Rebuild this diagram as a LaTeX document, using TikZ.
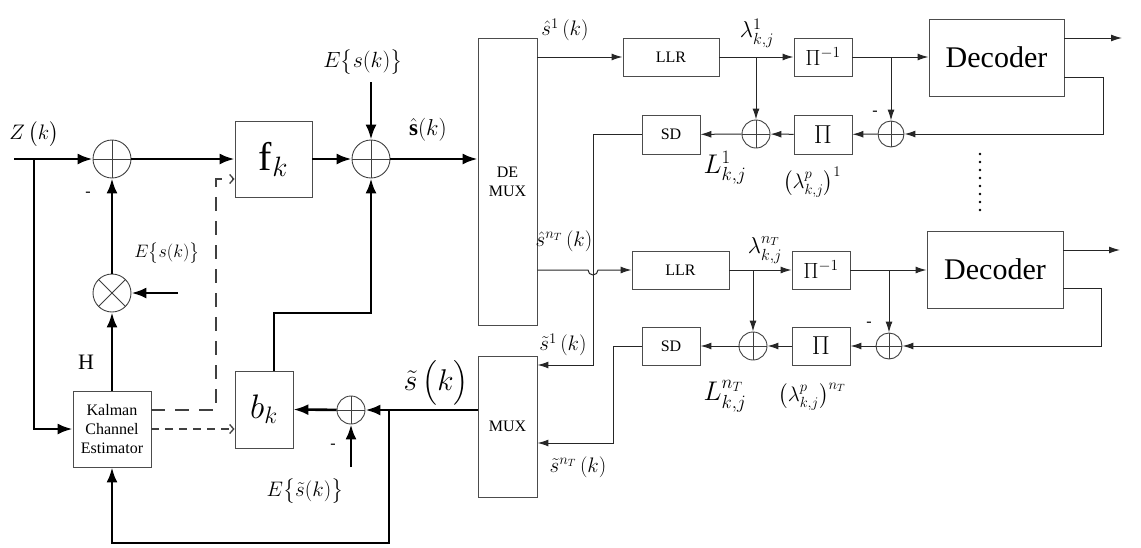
\RequirePackage{fix-cm}
\documentclass[tikz,border=0pt]{standalone}
\usepackage{amsmath}
\usepackage{fontspec}
\setmainfont{Liberation Serif}
\usetikzlibrary{arrows.meta, positioning, calc}

\begin{document}
\begin{tikzpicture}[x=1pt, y=-1pt,
        blockbox/.style={rectangle, draw=black!70, line width=0.9pt, fill=white, inner sep=0pt, align=center, font=\fontsize{16}{19}\selectfont},
        sumnode/.style={circle, draw=black!75, line width=0.9pt, fill=white, inner sep=0pt, minimum size=#1,
            path picture={\draw[black!75, line width=0.8pt] (path picture bounding box.north) -- (path picture bounding box.south) (path picture bounding box.west) -- (path picture bounding box.east);}},
        mulnode/.style={circle, draw=black!75, line width=0.9pt, fill=white, inner sep=0pt, minimum size=#1,
            path picture={\draw[black!75, line width=0.8pt] (path picture bounding box.north west) -- (path picture bounding box.south east) (path picture bounding box.south west) -- (path picture bounding box.north east);}},
        bus/.style={line width=2.6pt, -{Latex[length=15pt,width=11pt]}},
        sig/.style={line width=1pt, draw=black!85, -{Latex[length=11pt,width=7pt]}},
        ctrl/.style={line width=1.3pt, draw=black!75, -{Straight Barb[length=4pt,width=9pt]}},
        lbl/.style={inner sep=0pt, font=\fontsize{21}{23}\selectfont}
    ]
        \useasboundingbox (0,0) rectangle (1141,547);
        % Blocks
        \node[blockbox, minimum width=77pt, minimum height=76pt, font=\fontsize{40}{44}\selectfont] (fbox) at (273.5,159) {$\mathrm{f}_k$};
        \node[blockbox, minimum width=58pt, minimum height=77pt, font=\fontsize{34}{38}\selectfont] (bbox) at (264,409.5) {$b_k$};
        \node[blockbox, minimum width=78pt, minimum height=76pt] (kalman) at (112,429) {Kalman\\Channel\\Estimator};
        \node[blockbox, minimum width=59pt, minimum height=287pt] (demux) at (507.5,181.5) {DE\\MUX};
        \node[blockbox, minimum width=59pt, minimum height=141pt] (mux) at (507.5,426.5) {MUX};
        \node[blockbox, minimum width=96pt, minimum height=38pt] (llrA) at (671,57) {LLR};
        \node[blockbox, minimum width=58pt, minimum height=38pt, font=\fontsize{22}{24}\selectfont] (piinvA) at (823,57) {$\Pi^{-1}$};
        \node[blockbox, minimum width=58pt, minimum height=39pt, font=\fontsize{26}{28}\selectfont] (piA) at (823,134.5) {$\Pi$};
        \node[blockbox, minimum width=58pt, minimum height=39pt] (sdA) at (671,134.5) {SD};
        \node[blockbox, minimum width=135pt, minimum height=77pt, font=\fontsize{30}{32}\selectfont] (decA) at (996.5,57.5) {Decoder};
        \node[blockbox, minimum width=97pt, minimum height=38pt] (llrB) at (680.5,270) {LLR};
        \node[blockbox, minimum width=58pt, minimum height=38pt, font=\fontsize{22}{24}\selectfont] (piinvB) at (821,270) {$\Pi^{-1}$};
        \node[blockbox, minimum width=58pt, minimum height=38pt, font=\fontsize{26}{28}\selectfont] (piB) at (821,346) {$\Pi$};
        \node[blockbox, minimum width=58pt, minimum height=38pt] (sdB) at (671,346) {SD};
        \node[blockbox, minimum width=136pt, minimum height=77pt, font=\fontsize{30}{32}\selectfont] (decB) at (995,269.5) {Decoder};
        % Adders and multiplier
        \node[sumnode=38pt] (sumZ) at (112,159) {};
        \node[mulnode=38pt] (mulH) at (112,293) {};
        \node[sumnode=38pt] (sumF) at (371,159) {};
        \node[sumnode=28pt] (sumT) at (351,410) {};
        \node[sumnode=28pt] (sumLA) at (756,134) {};
        \node[sumnode=26pt] (sumDA) at (891,134) {};
        \node[sumnode=28pt] (sumLB) at (753,346) {};
        \node[sumnode=26pt] (sumDB) at (889,346) {};
        % Coordinates
        \coordinate (zin) at (14,159);
        \coordinate (zsplit) at (34,159);
        \coordinate (eL) at (178,293);
        \coordinate (eTop) at (371,82);
        \coordinate (bup) at (274,313);
        \coordinate (fb) at (389,410);
        \coordinate (fbLow) at (389,543);
        \coordinate (eT) at (351,467);
        \coordinate (dUp) at (216,410);
        \coordinate (dTop) at (216,179);
        \coordinate (dLow) at (151,429);
        \coordinate (jLA) at (756,57);
        \coordinate (jLB) at (753,270);
        \coordinate (jDA) at (891,57);
        \coordinate (jDB) at (889,270);
        \coordinate (sdAturn) at (593,134.5);
        \coordinate (sdAdown) at (593,365);
        \coordinate (sdBturn) at (613,346);
        \coordinate (sdBdown) at (613,443);
        \coordinate (hopL) at (588,270);
        \coordinate (oA) at (1122,38);
        \coordinate (fA) at (1103,77);
        \coordinate (oB) at (1120,250);
        \coordinate (fB) at (1101,288);
        % Thick signal paths
        \draw[bus] (zin) -- (sumZ);
        \draw[bus] (sumZ) -- (fbox);
        \draw[bus] (fbox) -- (sumF);
        \draw[bus] (sumF) -- (demux.west |- sumF);
        \draw[bus] (zsplit) |- (kalman.west);
        \draw[bus] (kalman.north) -- (mulH.south);
        \draw[bus] (mulH) -- (sumZ);
        \draw[bus] (eL) -- (mulH.east);
        \draw[bus] (eTop) -- (sumF.north);
        \draw[bus] (bbox.north -| bup) -- (bup) -| (sumF.south);
        \draw[bus] (mux.west |- sumT) -- (sumT.east);
        \draw[bus] (sumT) -- (bbox.east);
        \draw[bus] (fb) -- (fbLow) -| (kalman.south);
        \draw[bus] (eT) -- (sumT.south);
        % Dashed control paths
        \draw[ctrl, dash pattern=on 14pt off 10pt] (kalman.east |- dUp) -- (dUp) -- (dTop) -- (fbox.west |- dTop);
        \draw[ctrl, dash pattern=on 8pt off 6pt] (dLow) -- (bbox.west |- dLow);
        % Branch 1
        \draw[sig] (demux.east |- llrA) -- (llrA.west);
        \draw[sig] (llrA) -- (piinvA);
        \draw[sig] (jLA) -- (sumLA.north);
        \draw[sig] (piA) -- (sumLA);
        \draw[sig] (sumLA) -- (sdA);
        \draw[sig] (sdA.west) -- (sdAturn) -- (sdAdown) -- (mux.east |- sdAdown);
        \draw[sig] (piinvA) -- (decA.west |- piinvA);
        \draw[sig] (jDA) -- (sumDA.north);
        \draw[sig] (decA.east |- oA) -- (oA);
        \draw[sig] (decA.east |- fA) -- (fA) |- (sumDA.east);
        \draw[sig] (sumDA) -- (piA);
        % Branch nT
        \draw[sig] (demux.east |- hopL) -- (hopL) arc[start angle=180, end angle=360, radius=5pt] -- (llrB.west);
        \draw[sig] (llrB) -- (piinvB);
        \draw[sig] (jLB) -- (sumLB.north);
        \draw[sig] (piB) -- (sumLB);
        \draw[sig] (sumLB) -- (sdB);
        \draw[sig] (sdB.west) -- (sdBturn) -- (sdBdown) -- (mux.east |- sdBdown);
        \draw[sig] (piinvB) -- (decB.west |- piinvB);
        \draw[sig] (jDB) -- (sumDB.north);
        \draw[sig] (decB.east |- oB) -- (oB);
        \draw[sig] (decB.east |- fB) -- (fB) |- (sumDB.east);
        \draw[sig] (sumDB) -- (piB);
        % Dots between branches
        \foreach \yy in {154,162,...,210}
            \fill (980,\yy) circle (1.3pt);
        % Labels
        \node[lbl] (zlbl) at (34,134) {$Z\,\bigl(k\bigr)$};
        \node[lbl, font=\fontsize{16}{18}\selectfont] (minZ) at (88,194) {-};
        \node[lbl, font=\fontsize{18}{20}\selectfont] (eLlbl) at (167,253) {$E\bigl\{s(k)\bigr\}$};
        \node[lbl, font=\fontsize{22}{24}\selectfont] (hlbl) at (86,362) {H};
        \node[lbl, font=\fontsize{22}{24}\selectfont] (eToplbl) at (363,62) {$E\bigl\{s(k)\bigr\}$};
        \node[lbl, font=\fontsize{23}{25}\selectfont] (shat) at (428,130) {$\hat{\mathbf{s}}(k)$};
        \node[lbl, font=\fontsize{30}{32}\selectfont] (stil) at (436,383) {$\tilde{s}\,\bigl(k\bigr)$};
        \node[lbl, font=\fontsize{16}{18}\selectfont] (minT) at (333,446) {-};
        \node[lbl] (eTlbl) at (305,491) {$E\bigl\{\tilde{s}(k)\bigr\}$};
        \node[lbl] (s1hat) at (565,30) {$\hat{s}^1\,(k)$};
        \node[lbl, font=\fontsize{23}{25}\selectfont] (lamA) at (757,33) {$\lambda^1_{k,j}$};
        \node[lbl, font=\fontsize{27}{29}\selectfont] (LA) at (725,168) {$L^1_{k,j}$};
        \node[lbl] (lampA) at (812,182) {$\bigl(\lambda^p_{k,j}\bigr)^1$};
        \node[lbl, font=\fontsize{16}{18}\selectfont] (minDA) at (875,113) {-};
        \node[lbl] (snhat) at (564,241) {$\hat{s}^{n_T}\,(k)$};
        \node[lbl, font=\fontsize{23}{25}\selectfont] (lamB) at (765,250) {$\lambda^{n_T}_{k,j}$};
        \node[lbl] (s1til) at (563,345) {$\tilde{s}^1\,(k)$};
        \node[lbl, font=\fontsize{27}{29}\selectfont] (LB) at (725,396) {$L^{n_T}_{k,j}$};
        \node[lbl] (lampB) at (812,397) {$\bigl(\lambda^p_{k,j}\bigr)^{n_T}$};
        \node[lbl, font=\fontsize{16}{18}\selectfont] (minDB) at (869,324) {-};
        \node[lbl] (sntil) at (578,467) {$\tilde{s}^{n_T}\,(k)$};
    \end{tikzpicture}
\end{document}
